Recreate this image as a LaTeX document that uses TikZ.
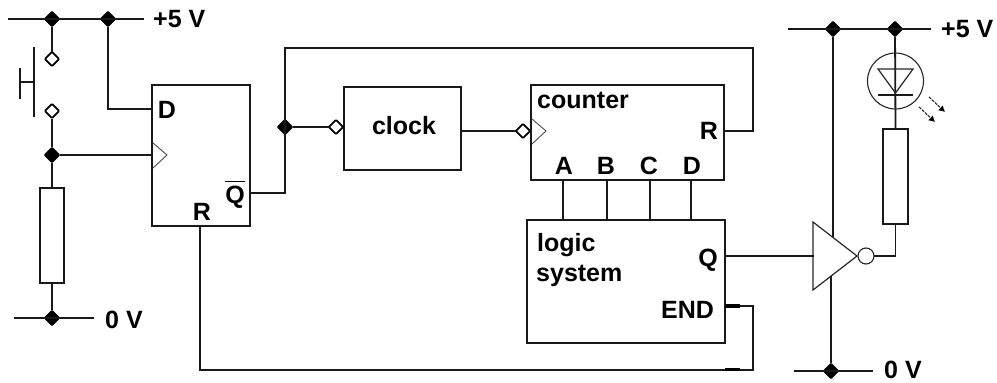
\documentclass[tikz,border=0pt]{standalone}
\usepackage{fontspec}
\setmainfont{Liberation Sans}
\usetikzlibrary{shapes.geometric,arrows.meta}
\tikzset{
  wire/.style={line width=1.8pt,color=black!90,line cap=rect},
  box/.style={draw=black!90,line width=1.8pt,fill=none,rectangle,inner sep=0pt,outer sep=0pt,anchor=north west},
  dotnode/.style={diamond,fill=black,inner sep=0pt,minimum width=17pt,minimum height=17pt,rounded corners=1pt},
  opennode/.style={diamond,draw=black,fill=white,line width=1.8pt,inner sep=0pt,minimum width=15pt,minimum height=15pt,rounded corners=1pt},
  bubble/.style={circle,draw=black!85,fill=white,line width=1.1pt,inner sep=0pt,minimum size=16pt},
  thinline/.style={line width=.9pt,color=black!70},
  lbl/.style={font=\bfseries\fontsize{25}{30}\selectfont,inner sep=0pt,text=black},
  tt/.style={lbl,anchor=base},
  ttl/.style={lbl,anchor=base west},
  stub/.style={line width=3.2pt,color=black,line cap=butt}
}
\begin{document}
\begin{tikzpicture}[x=1pt,y=-1pt]
\useasboundingbox (0,0) rectangle (997,383);
% boxes
\node[box,minimum width=98pt,minimum height=141pt] (ff) at (152,85) {};
\node[box,minimum width=117pt,minimum height=83pt] (clk) at (344,87) {};
\node[box,minimum width=193pt,minimum height=95pt] (cnt) at (531,85) {};
\node[box,minimum width=198pt,minimum height=123pt] (logic) at (527,220) {};
\node[box,minimum width=24pt,minimum height=95pt] (r1) at (40,188) {};
\node[box,minimum width=25pt,minimum height=95pt] (r2) at (883,129) {};
% left rails
\coordinate (lt1) at (9,19); \coordinate (lt2) at (143,19);
\coordinate (lb1) at (15,318); \coordinate (lb2) at (93,318);
\node[dotnode] (j1) at (52,19) {};
\node[dotnode] (j2) at (108,19) {};
\node[opennode] (s1) at (52,59) {};
\node[opennode] (s2) at (52,111) {};
\node[dotnode] (j3) at (52,155) {};
\node[dotnode] (j4) at (52,318) {};
\draw[wire] (lt1) -- (lt2);
\draw[wire] (lb1) -- (lb2);
\draw[wire] (j1) -- (s1);
\draw[wire] (s2) -- (j3);
\draw[wire] (j3) -- (r1.north);
\draw[wire] (r1.south) -- (j4);
% push switch
\coordinate (pb1) at (34,48); \coordinate (pb2) at (34,116);
\coordinate (ph) at (34,82); \coordinate (ph2) at (20,82);
\coordinate (pt1) at (20,69); \coordinate (pt2) at (20,98);
\draw[wire] (pb1) -- (pb2);
\draw[wire] (ph) -- (ph2);
\draw[wire] (pt1) -- (pt2);
% flip-flop connections
\coordinate (ffd) at (152,109);
\coordinate (ffck) at (152,155);
\coordinate (ffq) at (250,193);
\coordinate (ffr) at (200,226);
\draw[wire] (j2) |- (ffd);
\draw[wire] (j3) -- (ffck);
\coordinate (ffc1) at (153,143); \coordinate (ffc2) at (167,155); \coordinate (ffc3) at (153,168);
\draw[thinline] (ffc1) -- (ffc2) -- (ffc3);
% feedback net
\node[dotnode] (j5) at (285,127) {};
\coordinate (qc) at (285,193);
\coordinate (top1) at (285,48);
\coordinate (top2) at (753,48);
\coordinate (cr) at (724,131);
\draw[wire] (ffq) -- (qc) -- (top1) -- (top2) |- (cr);
% clock
\node[opennode] (b1) at (336,127) {};
\node[opennode] (b2) at (523,131) {};
\draw[wire] (j5) -- (b1);
\coordinate (clkout) at (461,131);
\draw[wire] (clkout) -- (b2);
\coordinate (cc1) at (532,119); \coordinate (cc2) at (546,131); \coordinate (cc3) at (532,144);
\draw[thinline] (cc1) -- (cc2) -- (cc3);
% counter to logic
\foreach \n/\x in {a/563,b/607,c/650,d/691}{
  \coordinate (up\n) at (\x,180);
  \coordinate (lo\n) at (\x,220);
  \draw[wire] (up\n) -- (lo\n);
}
% inverter
\coordinate (i1) at (813,222); \coordinate (i2) at (857,256); \coordinate (i3) at (813,290);
\draw[line width=1.2pt,color=black!85,line join=miter] (i1) -- (i2) -- (i3) -- cycle;
\node[bubble] (inv) at (866,256) {};
\coordinate (lq) at (725,256);
\coordinate (iq) at (813,256);
\draw[wire] (lq) -- (iq);
% END / R line
\coordinate (e1) at (725,306); \coordinate (e2) at (753,306);
\coordinate (e3) at (753,370); \coordinate (e4) at (200,370);
\draw[wire] (e1) -- (e2) -- (e3) -- (e4) -- (ffr);
\coordinate (es1) at (740,306); \coordinate (es2) at (725,369.5); \coordinate (es3) at (740,369.5);
\draw[stub] (e1) -- (es1);
\draw[stub] (es2) -- (es3);
% right rails
\coordinate (rt1) at (789,29); \coordinate (rt2) at (930,29);
\coordinate (rb1) at (795,371); \coordinate (rb2) at (872,371);
\node[dotnode] (j6) at (833,29) {};
\node[dotnode] (j7) at (895,29) {};
\node[dotnode] (j8) at (831,371) {};
\draw[wire] (rt1) -- (rt2);
\draw[wire] (rb1) -- (rb2);
\coordinate (ip) at (833,236); \coordinate (ig) at (831,277);
\draw[wire] (j6) -- (ip);
\draw[wire] (ig) -- (j8);
\coordinate (rc) at (895.5,256);
\draw[wire] (inv) -- (rc) -- (r2.south);
\draw[wire] (j7) -- (r2.north);
% LED
\node[circle,draw=black!85,line width=1.1pt,inner sep=0pt,minimum size=56pt] (led) at (895.5,81) {};
\coordinate (d1) at (878,69); \coordinate (d2) at (913,69); \coordinate (d3) at (895.5,93);
\draw[line width=1.2pt,color=black!85] (d1) -- (d2) -- (d3) -- cycle;
\coordinate (k1) at (879,95); \coordinate (k2) at (912,95);
\draw[wire] (k1) -- (k2);
\coordinate (a1s) at (929,97); \coordinate (a1e) at (945,112);
\coordinate (a2s) at (919,107); \coordinate (a2e) at (935,122);
\draw[line width=1.1pt,color=black!85,dashed,dash pattern=on 3pt off 1pt,-{Latex[length=6pt,width=7pt,color=black]}] (a1s) -- (a1e);
\draw[line width=1.1pt,color=black!85,dashed,dash pattern=on 3pt off 1pt,-{Latex[length=6pt,width=7pt,color=black]}] (a2s) -- (a2e);
% labels
\node[ttl] (t1) at (153,27) {+5 V};
\node[ttl] (t2) at (105,328) {0 V};
\node[ttl] (t3) at (941,37) {+5 V};
\node[ttl] (t4) at (884,378.5) {0 V};
\node[tt] (t5) at (167,118) {D};
\node[tt] (t6) at (235,203.5) {$\overline{\rule{0pt}{21pt}\mbox{Q}}$};
\node[tt] (t7) at (202,220) {R};
\node[tt] (t8) at (404,134) {clock};
\node[ttl] (t9) at (537,108) {counter};
\node[tt] (t10) at (709,139) {R};
\node[tt] (t11) at (564,174) {A};
\node[tt] (t12) at (606,174) {B};
\node[tt] (t13) at (649,174) {C};
\node[tt] (t14) at (692,174) {D};
\node[ttl] (t15) at (537,251) {logic};
\node[ttl] (t16) at (536,281) {system};
\node[tt] (t17) at (708,266) {Q};
\node[tt] (t18) at (687.5,318) {END};
\end{tikzpicture}
\end{document}
